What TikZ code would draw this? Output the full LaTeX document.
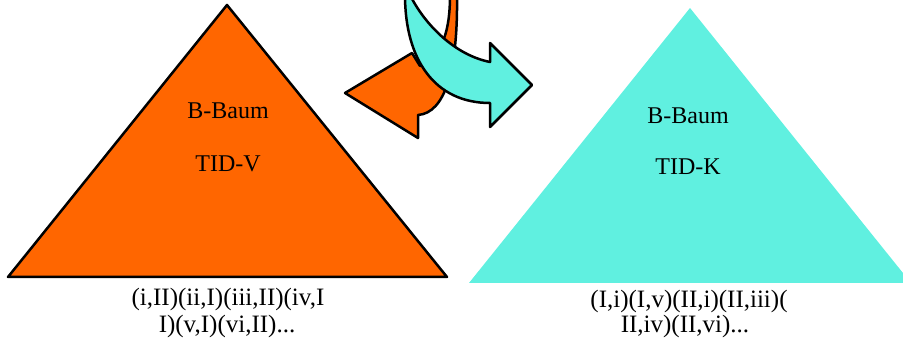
\documentclass[tikz,border=0pt]{standalone}
\usepackage{fontspec}
\setmainfont{Liberation Serif}
\definecolor{treeorange}{RGB}{255,102,0}
\definecolor{treecyan}{RGB}{96,240,224}

\begin{document}
\begin{tikzpicture}[x=1pt, y=-1pt,
  outline/.style={draw=black, line width=2.5pt, line join=round},
  lbl/.style={font=\fontsize{24}{28}\selectfont, anchor=base, inner sep=0pt},
  leaf/.style={font=\fontsize{25}{28}\selectfont, anchor=base, inner sep=0pt}
]
  \useasboundingbox (0,0) rectangle (903,339);
  \clip (0,0) rectangle (903,339);
  % trees
  \filldraw[outline, fill=treeorange] (227,5) -- (447,277) -- (8,277) -- cycle;
  \fill[treecyan] (690,8) -- (911,283) -- (469,283) -- cycle;
  \node[lbl] (bbaumV) at (228,119) {B-Baum};
  \node[lbl] (tidV) at (228,172) {TID-V};
  \node[lbl] (bbaumK) at (688,124) {B-Baum};
  \node[lbl] (tidK) at (688,175) {TID-K};
  % leaf entries
  \node[leaf] (leafV1) at (228,306) {(i,II)(ii,I)(iii,II)(iv,I};
  \node[leaf] (leafV2) at (227,332) {I)(v,I)(vi,II)...};
  \node[leaf] (leafK1) at (689,308) {(I,i)(I,v)(II,i)(II,iii)(};
  \node[leaf] (leafK2) at (685,333) {II,iv)(II,vi)...};
  % swap arrows
  \filldraw[outline, fill=treeorange]
    (457,-5) .. controls (458,70) and (445,113) .. (418,115)
    -- (418,138) -- (345,93) -- (412,53) -- (420,66)
    .. controls (443,55) and (450,30) .. (450,-5) -- cycle;
  \filldraw[outline, fill=treecyan]
    (405,-5) .. controls (405,60) and (435,103) .. (490,103)
    -- (490,127) -- (532,85) -- (490,43) -- (490,62)
    .. controls (455,55) and (425,25) .. (410,-5) -- cycle;
\end{tikzpicture}
\end{document}
